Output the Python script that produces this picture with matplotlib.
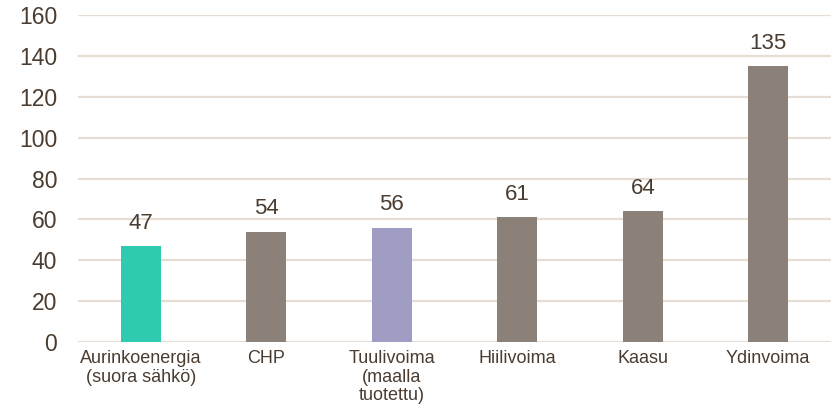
import matplotlib.pyplot as plt

categories = ["Aurinkoenergia\n(suora sähkö)", "CHP", "Tuulivoima\n(maalla\ntuotettu)",
              "Hiilivoima", "Kaasu", "Ydinvoima"]
values = [47, 54, 56, 61, 64, 135]
colors = ["#2ecbb1", "#8b8178", "#9f9dc4", "#8b8178", "#8b8178", "#8b8178"]

text_color = "#4a3c30"
grid_color = "#e6ddd5"

plt.rcParams["font.family"] = ["Liberation Sans", "DejaVu Sans"]

fig = plt.figure(figsize=(8.31, 4.17), dpi=100)
ax = fig.add_axes([78 / 831, 1 - 342 / 417, 753 / 831, 327 / 417])

x = range(len(categories))
ax.bar(x, values, width=0.32, color=colors, zorder=3)

for xi, v in zip(x, values):
    ax.text(xi, v + 6, str(v), ha="center", va="bottom", fontsize=16, color=text_color)

ax.set_xlim(-0.5, len(categories) - 0.5)
ax.set_ylim(0, 160)
ax.set_yticks(range(0, 161, 20))
ax.set_xticks(list(x))
ax.set_xticklabels(categories, fontsize=13, color=text_color, linespacing=1.1)
ax.tick_params(axis="y", labelsize=16.5, colors=text_color, length=0, pad=15)
ax.tick_params(axis="x", length=0, pad=6)

ax.grid(axis="y", color=grid_color, linewidth=1.6, zorder=0)
for s in ax.spines.values():
    s.set_visible(False)

fig.savefig("out.png", dpi=100)
